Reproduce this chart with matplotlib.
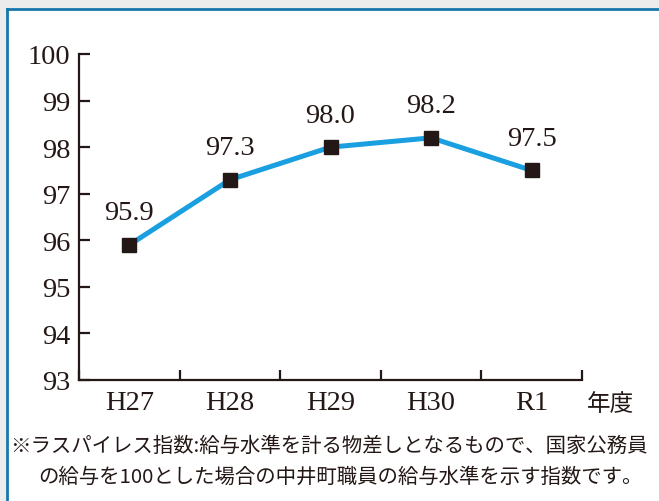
import matplotlib
matplotlib.use("Agg")
import matplotlib.pyplot as plt
from matplotlib.patches import Rectangle
from matplotlib.lines import Line2D

categories = ["H27", "H28", "H29", "H30", "R1"]
values = [95.9, 97.3, 98.0, 98.2, 97.5]
yticks = [93, 94, 95, 96, 97, 98, 99, 100]
note_lines = ["※ラスパイレス指数:給与水準を計る物差しとなるもので、国家公務員",
              "の給与を100とした場合の中井町職員の給与水準を示す指数です。"]
unit_label = "年度"

W, H = 659, 502
DPI = 100
ink = "#231815"
line_c = "#1a9fe0"
frame_c = "#1677aa"
serif = ["Liberation Serif", "DejaVu Serif"]
jp = ["Noto Sans CJK JP", "DejaVu Sans"]
num_fs = 20.5

fig = plt.figure(figsize=(W / DPI, H / DPI), dpi=DPI)
fig.patch.set_facecolor("#ececec")

def px(x, y):
    return x / W, 1 - y / H

# white panel with blue border (left & top visible)
x0, y0 = px(7, 10)
fig.patches.append(Rectangle((x0, -0.05), 1.1, y0 + 0.05, transform=fig.transFigure,
                             facecolor="white", edgecolor="none", zorder=-5))
fig.lines.append(Line2D([x0, 1.01], [y0, y0], transform=fig.transFigure, color=frame_c, lw=2, zorder=-4))
fig.lines.append(Line2D([x0, x0], [y0, -0.01], transform=fig.transFigure, color=frame_c, lw=2, zorder=-4))

left, right = 79 / W, 582 / W
bottom, top = 1 - 381 / H, 1 - 55 / H
ax = fig.add_axes([left, bottom, right - left, top - bottom])
ax.set_facecolor("none")

xs = list(range(len(categories)))
ax.plot(xs, values, color=line_c, lw=3.6, zorder=2, clip_on=False)
ax.plot(xs, values, linestyle="none", marker="s", markersize=10, color=ink, zorder=3, clip_on=False)
for x, v in zip(xs, values):
    ax.annotate(f"{v:.1f}", (x, v), xytext=(0, 23), textcoords="offset points",
                ha="center", va="center", fontsize=num_fs, family=serif, color=ink)

ax.set_xlim(-0.5, len(categories) - 0.5)
ax.set_ylim(93, 100)
ax.set_yticks(yticks)
ax.set_yticklabels([str(t) for t in yticks], family=serif, fontsize=num_fs, color=ink)
ax.set_xticks([i - 0.5 for i in range(len(categories) + 1)])
ax.set_xticklabels([])
ax.set_xticks(xs, minor=True)
ax.set_xticklabels(categories, minor=True, family=serif, fontsize=num_fs, color=ink)

for s in ["top", "right"]:
    ax.spines[s].set_visible(False)
for s in ["left", "bottom"]:
    ax.spines[s].set_color(ink)
    ax.spines[s].set_linewidth(1.6)
ax.tick_params(axis="y", direction="in", length=8, width=1.6, color=ink, pad=6)
ax.tick_params(axis="x", which="major", direction="in", length=7, width=1.6, color=ink)
ax.tick_params(axis="x", which="minor", length=0, pad=7)

fx, fy = px(610, 405)
fig.text(fx, fy, unit_label, ha="center", va="center", fontsize=17, family=jp, color=ink)

fx, fy = px(10, 446)
fig.text(fx, fy, note_lines[0], ha="left", va="center", fontsize=14.7, family=jp, color=ink)
fx, fy = px(38, 477)
fig.text(fx, fy, note_lines[1], ha="left", va="center", fontsize=14.7, family=jp, color=ink)

fig.savefig("out.png", dpi=DPI, facecolor=fig.get_facecolor())
